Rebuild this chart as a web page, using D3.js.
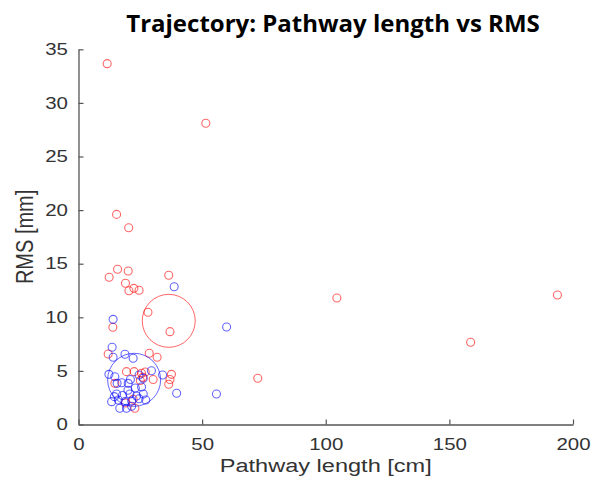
<!DOCTYPE html>
<html><head><meta charset="utf-8">
<script src="https://cdn.jsdelivr.net/npm/d3@7"></script>
<style>body{margin:0;background:#fff}</style>
</head><body><svg id="c" width="601" height="481"></svg>
<script>
const title = "Trajectory: Pathway length vs RMS";
const xLabel = "Pathway length [cm]";
const yLabel = "RMS [mm]";
const xTicks = [0, 50, 100, 150, 200];
const yTicks = [0, 5, 10, 15, 20, 25, 30, 35];

const redX = [11.6, 51.5, 15.4, 20.3, 104.5, 193.7, 158.6, 72.5,
  12.4, 15.8, 20.1, 19.0, 20.4, 22.4, 24.5, 36.5, 28.1, 37.0, 13.9,
  12.0, 28.6, 31.8, 19.4, 22.5, 25.5, 26.0, 30.2, 37.6, 37.0, 36.5, 14.7, 22.1, 22.8, 19.0, 27.0, 25.0];
const redY = [33.66, 28.1, 19.6, 18.36, 11.8, 12.08, 7.67, 4.31,
  13.73, 14.48, 14.32, 13.17, 12.48, 12.7, 12.52, 13.92, 10.47, 8.66, 9.07,
  6.58, 6.64, 6.27, 4.93, 4.93, 4.78, 4.4, 4.2, 4.68, 4.2, 3.75, 3.84, 2.35, 1.51, 2.0, 4.9, 4.1];

const blueX = [38.7, 59.9, 55.8, 14.0, 13.6, 14.0, 18.8, 22.1, 12.3, 14.7, 15.6, 20.1,
  24.5, 26.2, 29.5, 34.0, 39.7, 15.4, 20.8, 26.2, 23.5, 13.4, 16.1, 18.8, 21.5, 16.7,
  19.4, 21.5, 14.5, 24.5, 25.5, 17.5, 23.0, 20.0, 17.8, 21.0, 27.2];
const blueY = [12.85, 9.1, 2.85, 9.81, 7.2, 6.27, 6.55, 6.18, 4.68, 4.46, 3.84, 3.84,
  4.62, 4.31, 5.02, 4.62, 2.91, 2.85, 2.85, 2.85, 2.66, 2.13, 2.29, 2.13, 2.2, 1.51,
  1.51, 1.7, 2.6, 2.4, 3.5, 3.9, 3.4, 3.2, 2.7, 4.2, 2.29];

const meanX = [36.5, 22.5];
const meanY = [9.67, 4.17];
const groups = ["red", "blue"];

const svg = d3.select("#c");
const m = {l: 78.5, r: 28, t: 49.3, b: 56.5};
const W = 601, H = 481;
const sx = 1.24; // horizontal stretch of text in the reference
const x = d3.scaleLinear().domain([0, 200]).range([m.l, W - m.r]);
const y = d3.scaleLinear().domain([0, 35]).range([H - m.b, m.t]);

const axisColor = "#555";
const font = "'Liberation Sans', Arial, sans-serif";
const gx = svg.append("g").attr("transform", `translate(0,${H - m.b})`)
  .call(d3.axisBottom(x).tickValues(xTicks).tickSizeInner(-5).tickSizeOuter(0).tickPadding(13.5));
const gy = svg.append("g").attr("transform", `translate(${m.l},0)`)
  .call(d3.axisLeft(y).tickValues(yTicks).tickSizeInner(-5).tickSizeOuter(0).tickPadding(8.5));
[gx, gy].forEach(g => {
  g.select(".domain").attr("stroke", axisColor).attr("stroke-width", 1.3);
  g.selectAll(".tick line").attr("stroke", axisColor).attr("stroke-width", 1.2);
  g.selectAll(".tick text").attr("fill", "#333").style("font-family", font).style("font-size", "16.5px")
    .attr("transform", `scale(${sx},1)`);
});

const col = {red: "rgba(255,0,0,0.6)", blue: "rgba(0,0,255,0.6)"};
const plot = svg.append("g");
function drawPts(xs, ys, c) {
  plot.selectAll(null).data(xs.map((v, i) => [v, ys[i]])).enter().append("circle")
    .attr("cx", d => x(d[0])).attr("cy", d => y(d[1])).attr("r", 4)
    .attr("fill", "none").attr("stroke", c).attr("stroke-width", 1.1);
}
drawPts(redX, redY, col.red);
drawPts(blueX, blueY, col.blue);
plot.selectAll(null).data(groups).enter().append("circle")
  .attr("cx", (d, i) => x(meanX[i])).attr("cy", (d, i) => y(meanY[i])).attr("r", 26.5)
  .attr("fill", "none").attr("stroke", d => col[d]).attr("stroke-width", 1);

svg.append("text").attr("x", 333).attr("y", 32).attr("text-anchor", "middle")
  .style("font-family", "'Open Sans', 'Noto Sans', sans-serif").style("font-weight", "bold")
  .style("font-size", "24px").attr("fill", "#000").text(title);
svg.append("text").attr("transform", `translate(${(m.l + W - m.r) / 2},472) scale(${sx},1)`).attr("text-anchor", "middle")
  .style("font-family", font).style("font-size", "19px").attr("fill", "#333").text(xLabel);
svg.append("text").attr("transform", `translate(33,${(m.t + H - m.b) / 2}) scale(${sx},1) rotate(-90)`).attr("text-anchor", "middle")
  .style("font-family", font).style("font-size", "20px").attr("fill", "#333").text(yLabel);
</script></body></html>
